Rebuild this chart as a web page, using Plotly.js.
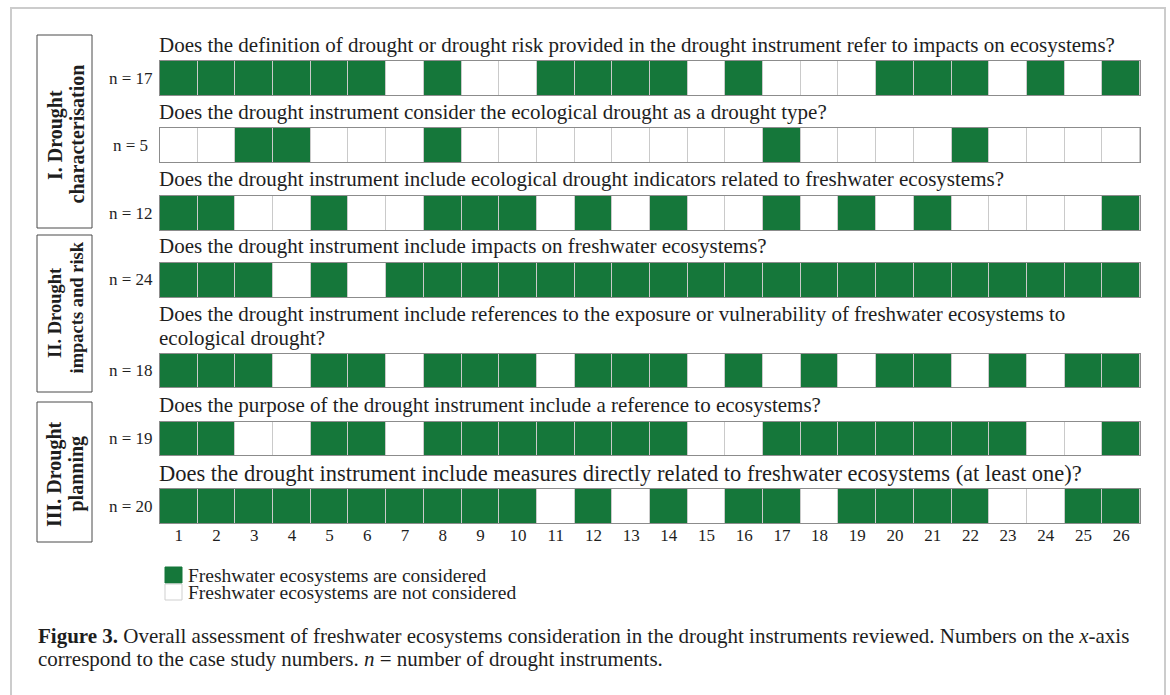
<!DOCTYPE html>
<html><head><meta charset="utf-8">
<script src="https://cdn.plot.ly/plotly-3.0.1.min.js"></script>
<style>html,body{margin:0;padding:0;background:#fff}#chart{width:1170px;height:695px}</style>
</head><body><div id="chart"></div>
<script>
// ---- data ----
const caseNumbers = [1,2,3,4,5,6,7,8,9,10,11,12,13,14,15,16,17,18,19,20,21,22,23,24,25,26];
const questions = [
  "Does the definition of drought or drought risk provided in the drought instrument refer to impacts on ecosystems?",
  "Does the drought instrument consider the ecological drought as a drought type?",
  "Does the drought instrument include ecological drought indicators related to freshwater ecosystems?",
  "Does the drought instrument include impacts on freshwater ecosystems?",
  "Does the drought instrument include references to the exposure or vulnerability of freshwater ecosystems to<br>ecological drought?",
  "Does the purpose of the drought instrument include a reference to ecosystems?",
  "Does the drought instrument include measures directly related to freshwater ecosystems (at least one)?"
];
const q1 = [1,1,1,1,1,1,0,1,0,0,1,1,1,1,0,1,0,0,0,1,1,1,0,1,0,1];
const q2 = [0,0,1,1,0,0,0,1,0,0,0,0,0,0,0,0,1,0,0,0,0,1,0,0,0,0];
const q3 = [1,1,0,0,1,0,0,1,1,1,0,1,0,1,0,0,1,0,1,0,1,0,0,0,0,1];
const q4 = [1,1,1,0,1,0,1,1,1,1,1,1,1,1,1,1,1,1,1,1,1,1,1,1,1,1];
const q5 = [1,1,1,0,1,1,0,1,1,1,0,1,1,1,0,1,0,1,0,1,1,0,1,0,1,1];
const q6 = [1,1,0,0,1,1,0,1,1,1,1,1,1,1,0,0,1,1,1,1,1,1,1,0,0,1];
const q7 = [1,1,1,1,1,1,1,1,1,1,0,1,0,1,0,1,1,0,1,1,1,1,0,0,1,1];
const rowsData = [q1,q2,q3,q4,q5,q6,q7];
const groupLabels = ["I. Drought<br>characterisation", "II. Drought<br>impacts and risk", "III. Drought<br>planning"];
const legendLabels = ["Freshwater ecosystems are considered", "Freshwater ecosystems are not considered"];
const captionLines = [
  "<b>Figure 3.</b> Overall assessment of freshwater ecosystems consideration in the drought instruments reviewed. Numbers on the <i>x</i>-axis",
  "correspond to the case study numbers. <i>n</i> = number of drought instruments."
];

// ---- layout helpers (pixel geometry) ----
const W = 1170, H = 695;
const GREEN = '#15773a';
const FONT = 'Liberation Serif, Times New Roman, serif';
const TXT = '#1e1e1e';
const px = v => v / W;
const py = v => 1 - v / H;
const rowPix = [[61,95],[128,162],[196,230],[263,297],[354,387],[422,455],[489,523]];
const titleY = [45,112,179,246,314,405,473];
const titleSize = [21,21,21,21,21,21,22.5];
const TITLE_LINE = 23.5;
const groupBoxes = [[35,228],[235,392],[402,542]];
const groupSize = [20,18.5,20];
const groupLineX = [55, 76.5];
const groupLineY = [[135,134],[313,308],[474,474]];

const data = [];
const layout = {
  width: W, height: H,
  margin: {l:0, r:0, t:0, b:0},
  paper_bgcolor: '#fff',
  plot_bgcolor: '#cacaca',
  showlegend: false,
  font: {family: FONT, color: TXT},
  annotations: [],
  shapes: []
};

rowsData.forEach((row, i) => {
  const s = i === 0 ? '' : String(i + 1);
  data.push({
    type: 'heatmap',
    x: caseNumbers, y: [0], z: [row],
    xaxis: 'x' + s, yaxis: 'y' + s,
    zmin: 0, zmax: 1,
    colorscale: [[0, '#ffffff'], [1, GREEN]],
    showscale: false, xgap: 1, hoverinfo: 'skip'
  });
  layout['xaxis' + s] = {
    domain: [px(160), px(1140)], range: [0.5, 26.5], anchor: 'y' + s,
    showline: true, mirror: true, linecolor: '#8c8c8c', linewidth: 1,
    showgrid: false, zeroline: false, ticks: '',
    showticklabels: i === rowsData.length - 1, ticklabelstandoff: -3,
    tickmode: 'array', tickvals: caseNumbers, ticktext: caseNumbers.map(String),
    tickfont: {size: 17, family: FONT, color: TXT}, fixedrange: true
  };
  layout['yaxis' + s] = {
    domain: [py(rowPix[i][1]), py(rowPix[i][0])], range: [-0.5, 0.5], anchor: 'x' + s,
    showline: true, mirror: true, linecolor: '#8c8c8c', linewidth: 1,
    showgrid: false, zeroline: false, showticklabels: false, ticks: '', fixedrange: true
  };
  // question title (one annotation per line for tight line spacing)
  questions[i].split('<br>').forEach((line, k) => {
    layout.annotations.push({
      xref: 'paper', yref: 'paper', x: px(157), y: py(titleY[i] + k * TITLE_LINE),
      xanchor: 'left', yanchor: 'middle', align: 'left', showarrow: false,
      text: line, font: {size: titleSize[i], family: FONT, color: TXT}
    });
  });
  // n label
  const n = row.reduce((a, b) => a + b, 0);
  layout.annotations.push({
    xref: 'paper', yref: 'paper', x: px(i === 1 ? 150 : 155), y: py((rowPix[i][0] + rowPix[i][1]) / 2),
    xanchor: 'right', yanchor: 'middle', showarrow: false,
    text: 'n = ' + n, font: {size: 17, family: FONT, color: TXT}
  });
});

// group boxes
groupBoxes.forEach((b, i) => {
  layout.shapes.push({
    type: 'rect', xref: 'paper', yref: 'paper',
    x0: px(37), x1: px(92), y0: py(b[1]), y1: py(b[0]),
    line: {color: '#4a4a4a', width: 1}, fillcolor: 'rgba(0,0,0,0)'
  });
  groupLabels[i].split('<br>').forEach((line, k) => {
    layout.annotations.push({
      xref: 'paper', yref: 'paper', x: px(groupLineX[k]), y: py(groupLineY[i][k]),
      xanchor: 'center', yanchor: 'middle', showarrow: false, textangle: -90,
      text: '<b>' + line + '</b>', font: {size: groupSize[i], family: FONT, color: TXT}
    });
  });
});

// legend
const legColors = [GREEN, '#ffffff'];
const legLine = [GREEN, '#cfcfcf'];
[[567,583],[584,600]].forEach((r, i) => {
  layout.shapes.push({
    type: 'rect', xref: 'paper', yref: 'paper',
    x0: px(165), x1: px(182), y0: py(r[1]), y1: py(r[0]),
    line: {color: legLine[i], width: 1}, fillcolor: legColors[i]
  });
  layout.annotations.push({
    xref: 'paper', yref: 'paper', x: px(186), y: py((r[0] + r[1]) / 2),
    xanchor: 'left', yanchor: 'middle', showarrow: false,
    text: legendLabels[i], font: {size: 19.5, family: FONT, color: TXT}
  });
});

// caption
[636, 659].forEach((y, i) => {
  layout.annotations.push({
    xref: 'paper', yref: 'paper', x: px(36), y: py(y),
    xanchor: 'left', yanchor: 'middle', showarrow: false,
    text: captionLines[i], font: {size: 21, family: FONT, color: TXT}
  });
});

// outer frame
layout.shapes.push({
  type: 'rect', xref: 'paper', yref: 'paper',
  x0: px(11), x1: px(1165), y0: py(720), y1: py(8),
  line: {color: '#cccccc', width: 2}, fillcolor: 'rgba(0,0,0,0)'
});

Plotly.newPlot('chart', data, layout, {displayModeBar: false, staticPlot: true});
</script>
</body></html>
